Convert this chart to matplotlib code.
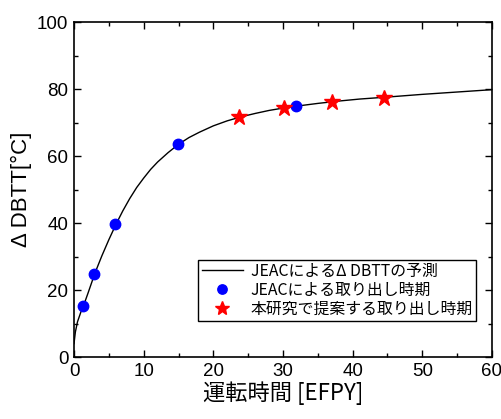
import matplotlib.pyplot as plt
from matplotlib.ticker import MultipleLocator

plt.rcParams['font.family'] = ['Liberation Sans', 'Noto Sans CJK JP']

# JEAC prediction curve
curve_x = [0, 0.2, 0.5, 1.0, 1.4, 2.0, 3.0, 4.0, 5.0, 6.0, 7.0, 8.0, 9.0, 10.0, 11.0,
           12.0, 13.5, 15.0, 16.5, 18.0, 20.0, 22.0, 24.0, 26.0, 28.0, 30.0, 32.0,
           35.0, 38.0, 41.0, 45.0, 50.0, 55.0, 60.0]
curve_y = [4.0, 7.5, 10.5, 13.5, 15.5, 19.0, 25.0, 30.2, 35.0, 39.5, 43.6, 47.3, 50.6,
           53.4, 56.0, 58.2, 61.0, 63.5, 65.5, 67.1, 69.0, 70.5, 71.7, 72.7, 73.6,
           74.3, 74.9, 75.7, 76.4, 77.0, 77.6, 78.4, 79.1, 79.8]

# JEAC withdrawal times
jeac_x = [1.3, 2.9, 5.9, 14.9, 31.9]
jeac_y = [15.3, 24.8, 39.7, 63.6, 75.0]

# proposed withdrawal times
prop_x = [23.7, 30.1, 37.1, 44.5]
prop_y = [71.5, 74.4, 76.2, 77.4]

fig = plt.figure(figsize=(5.02, 4.19), dpi=100)
ax = fig.add_axes([74/502, 1-357/419, 418/502, 335/419])

ax.plot(curve_x, curve_y, color='black', lw=1.0, label='JEACによるΔ DBTTの予測')
ax.plot(jeac_x, jeac_y, 'o', color='blue', ms=7.5, label='JEACによる取り出し時期')
ax.plot(prop_x, prop_y, '*', color='red', ms=12, label='本研究で提案する取り出し時期')

ax.set_xlim(0, 60)
ax.set_ylim(0, 100)
ax.xaxis.set_major_locator(MultipleLocator(10))
ax.xaxis.set_minor_locator(MultipleLocator(5))
ax.yaxis.set_major_locator(MultipleLocator(20))
ax.yaxis.set_minor_locator(MultipleLocator(10))
ax.tick_params(which='both', direction='in', top=True, right=True, width=1.0)
ax.tick_params(which='major', length=5, labelsize=13.5, pad=4)
ax.tick_params(which='minor', length=3)
for s in ax.spines.values():
    s.set_linewidth(1.2)

ax.set_xlabel('運転時間 [EFPY]', fontsize=16, family=['Noto Sans CJK JP'], labelpad=1)
ax.set_ylabel('Δ DBTT[°C]', fontsize=16, labelpad=4)

leg = ax.legend(loc='lower right', bbox_to_anchor=(0.962, 0.108),
                prop={'family': ['Noto Sans CJK JP'], 'size': 11.4},
                fancybox=False, edgecolor='black', framealpha=1,
                borderpad=0.2, labelspacing=0.12, handlelength=2.6,
                handletextpad=0.5, borderaxespad=0, markerscale=0.9)
leg.get_frame().set_linewidth(1.0)

fig.savefig('out.png', dpi=100)
